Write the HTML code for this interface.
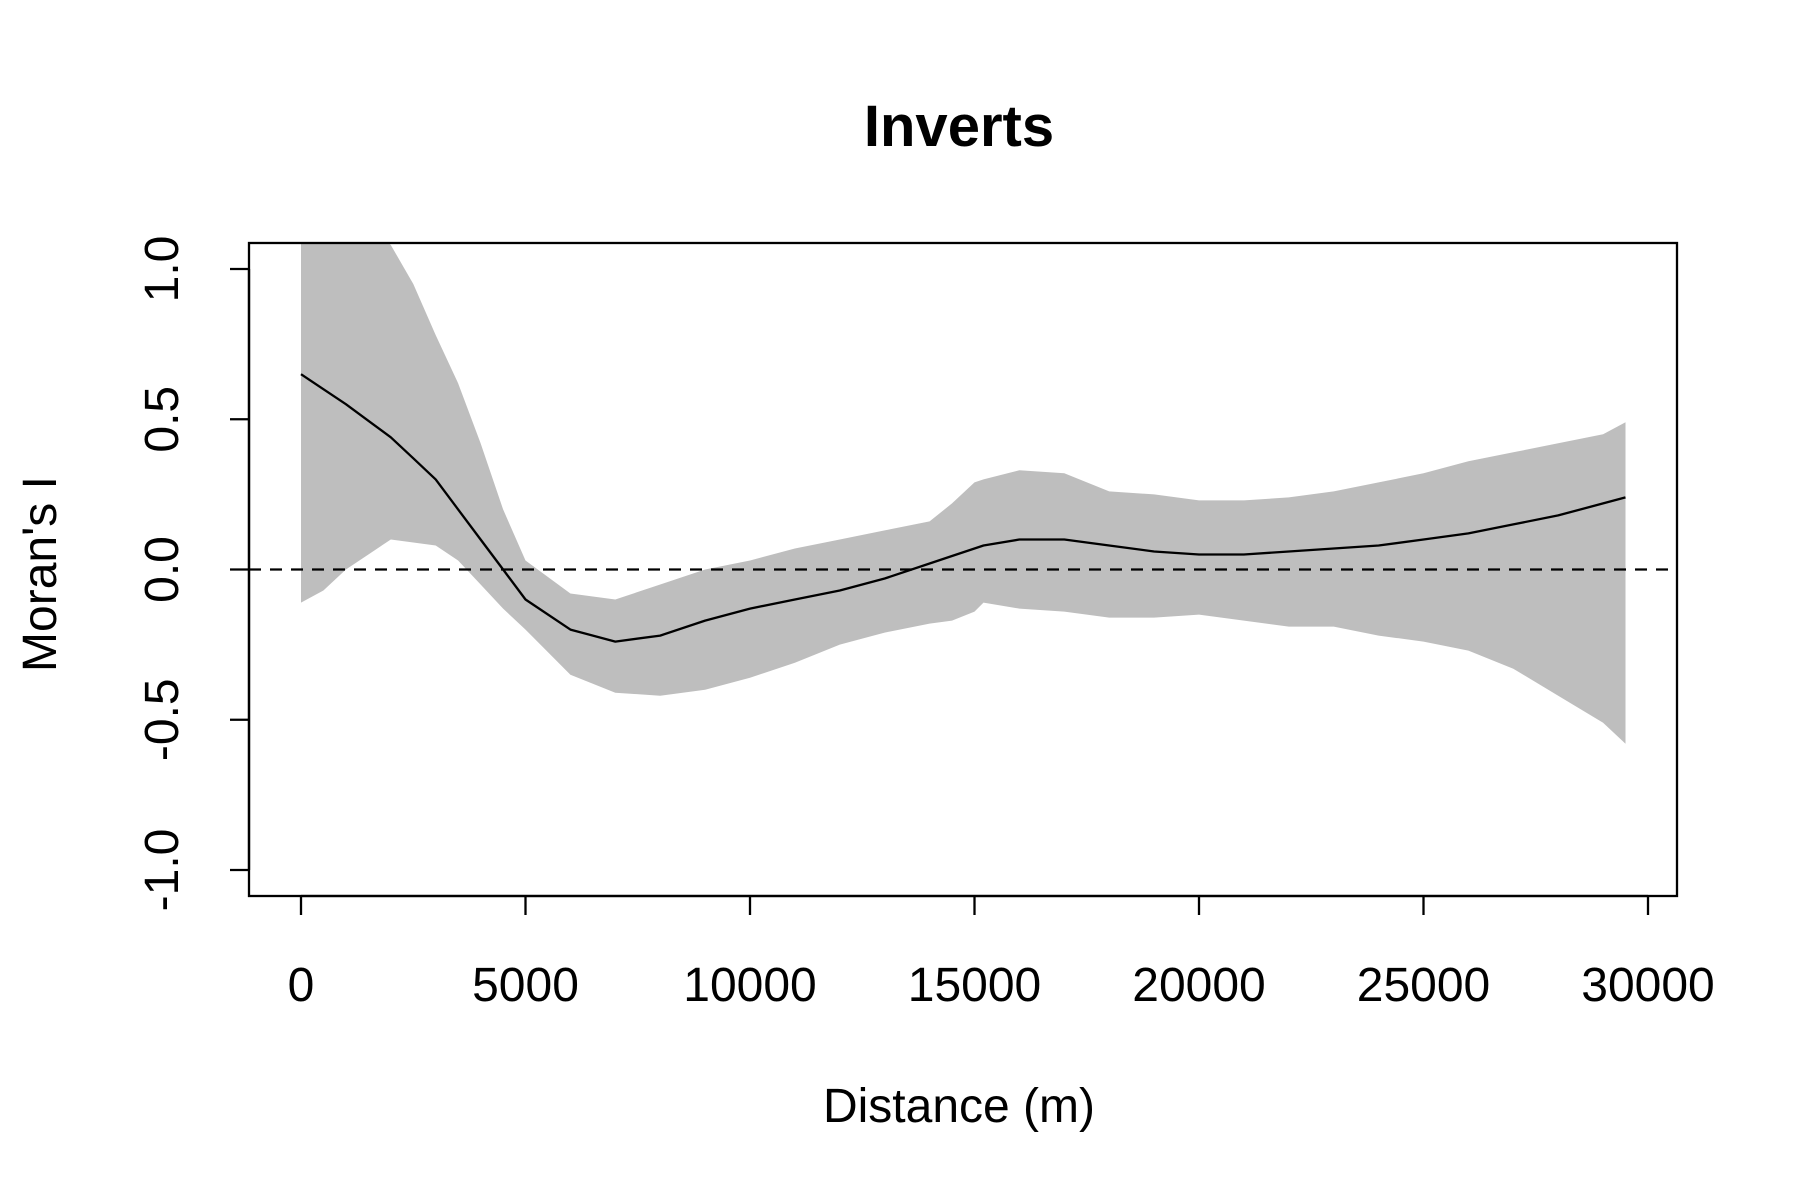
<!DOCTYPE html>
<html><head><meta charset="utf-8"><style>
html,body{margin:0;padding:0;background:#fff;}
svg{display:block;font-family:"Liberation Sans",Arial,sans-serif;}
</style></head><body>
<svg id="chart" width="1800" height="1200" viewBox="0 0 1800 1200">
<rect x="0" y="0" width="1800" height="1200" fill="#fff"/>
<defs><clipPath id="clip"><rect x="249" y="243" width="1428" height="653"/></clipPath></defs>
<text x="959" y="146" text-anchor="middle" font-size="58" font-weight="bold">Inverts</text>
<text x="959" y="1122" text-anchor="middle" font-size="48">Distance (m)</text>
<text transform="translate(56,574) rotate(-90)" text-anchor="middle" font-size="48">Moran's I</text>
<g id="plot" clip-path="url(#clip)"></g>
<g id="axes"></g>
<rect x="249" y="243" width="1428" height="653" fill="none" stroke="#000" stroke-width="2.3"/>
</svg>
<script>
const xs = [0,500,1000,1500,2000,2500,3000,3500,4000,4500,5000,6000,7000,8000,9000,10000,11000,12000,13000,14000,14500,15000,15200,16000,17000,18000,19000,20000,21000,22000,23000,24000,25000,26000,27000,28000,29000,29500];
const meanVals = [0.65,0.60,0.55,0.495,0.44,0.37,0.30,0.20,0.10,0.00,-0.10,-0.20,-0.24,-0.22,-0.17,-0.13,-0.10,-0.07,-0.03,0.02,0.045,0.07,0.08,0.10,0.10,0.08,0.06,0.05,0.05,0.06,0.07,0.08,0.10,0.12,0.15,0.18,0.22,0.24];
const upperVals = [1.2,1.2,1.2,1.15,1.08,0.95,0.78,0.62,0.42,0.2,0.03,-0.08,-0.1,-0.05,0.0,0.03,0.07,0.1,0.13,0.16,0.22,0.29,0.3,0.33,0.32,0.26,0.25,0.23,0.23,0.24,0.26,0.29,0.32,0.36,0.39,0.42,0.45,0.49];
const lowerVals = [-0.11,-0.07,0.0,0.05,0.1,0.09,0.08,0.03,-0.05,-0.13,-0.2,-0.35,-0.41,-0.42,-0.4,-0.36,-0.31,-0.25,-0.21,-0.18,-0.17,-0.14,-0.11,-0.13,-0.14,-0.16,-0.16,-0.15,-0.17,-0.19,-0.19,-0.22,-0.24,-0.27,-0.33,-0.42,-0.51,-0.58];
const xTicks = [0,5000,10000,15000,20000,25000,30000];
const yTicks = [-1.0,-0.5,0.0,0.5,1.0];
const yTickLabels = ["-1.0","-0.5","0.0","0.5","1.0"];

const NS="http://www.w3.org/2000/svg";
const X = v => 301 + v*(1648-301)/30000;
const Y = v => 569.5 - v*300.5;
const plot=document.getElementById('plot'), axes=document.getElementById('axes');
function mk(tag, attrs, parent){const e=document.createElementNS(NS,tag);for(const k in attrs)e.setAttribute(k,attrs[k]);parent.appendChild(e);return e;}

let d = xs.map((x,i)=>(i?'L':'M')+X(x).toFixed(1)+','+Y(upperVals[i]).toFixed(1)).join(' ');
for(let i=xs.length-1;i>=0;i--) d+=' L'+X(xs[i]).toFixed(1)+','+Y(lowerVals[i]).toFixed(1);
const band=mk('path',{d:d+' Z',fill:'#bebebe',stroke:'none'},plot);



const zl=mk('line',{x1:249,x2:1677,y1:Y(0),y2:Y(0),stroke:'#000','stroke-width':2.3,'stroke-dasharray':'12,9'},plot);



const ml=mk('path',{d:xs.map((x,i)=>(i?'L':'M')+X(x).toFixed(1)+','+Y(meanVals[i]).toFixed(1)).join(' '),fill:'none',stroke:'#000','stroke-width':2.3,'stroke-linejoin':'round'},plot);



mk('line',{x1:X(0),x2:X(30000),y1:896,y2:896,stroke:'#000','stroke-width':2.3},axes);
xTicks.forEach(t=>{
  const tk=mk('line',{x1:X(t),x2:X(t),y1:896,y2:915,stroke:'#000','stroke-width':2.3},axes);
  
  
  const tl=mk('text',{x:X(t),y:1001,'text-anchor':'middle','font-size':48},axes);
  tl.textContent=String(t);
  
  
});
mk('line',{x1:249,x2:249,y1:Y(-1),y2:Y(1),stroke:'#000','stroke-width':2.3},axes);
yTicks.forEach((t,i)=>{
  const tk=mk('line',{x1:249,x2:230,y1:Y(t),y2:Y(t),stroke:'#000','stroke-width':2.3},axes);
  
  
  const tl=mk('text',{transform:'translate(178,'+Y(t)+') rotate(-90)','text-anchor':'middle','font-size':48},axes);
  tl.textContent=yTickLabels[i];
  
  
});
</script>
</body></html>
